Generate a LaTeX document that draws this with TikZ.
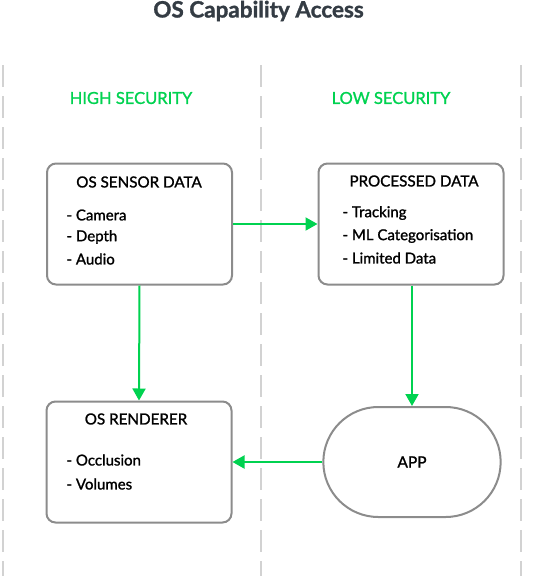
\documentclass[tikz,border=0pt]{standalone}
\usepackage{fontspec}
\setmainfont{Lato}[FakeBold=1.3]
\usepackage{tikz}
\usetikzlibrary{positioning,arrows.meta,shapes.misc}
\definecolor{flowgreen}{RGB}{0,210,80}
\definecolor{boxgray}{RGB}{140,140,140}
\definecolor{lanegray}{RGB}{210,210,210}
\definecolor{titlegray}{RGB}{52,60,68}

\begin{document}
\begin{tikzpicture}[
        x=1pt, y=-1pt,
        box/.style={draw=boxgray, line width=2pt, rounded corners=9pt, minimum width=185pt, minimum height=121pt},
        pill/.style={draw=boxgray, line width=2pt, rounded rectangle, minimum width=184pt, minimum height=110pt, font=\fontsize{15.5}{18}\selectfont},
        head/.style={font=\fontsize{15.2}{18}\selectfont, text=black},
        item/.style={font=\fontsize{15}{18}\selectfont, text=black, anchor=west},
        lane/.style={font=\fontsize{16.5}{20}\selectfont, text=flowgreen},
        flow/.style={draw=flowgreen, line width=2pt, -{Triangle[length=12pt,width=13pt]}},
        divider/.style={draw=lanegray, line width=2.5pt, dash pattern=on 22pt off 9pt}
    ]
        \useasboundingbox (0,0) rectangle (550,576);

        % Title and lanes
        \node[font=\fontsize{22.5}{26}\selectfont\bfseries, text=titlegray] (title) at (258.5,11) {OS Capability Access};
        \node[lane] (high) at (131,98) {HIGH SECURITY};
        \node[lane] (low) at (391,98) {LOW SECURITY};

        % Dashed dividers
        \foreach \xx in {3,261,521}
            \draw[divider] (\xx,65) -- (\xx,580);

        % Boxes
        \node[box, fill=white] (sensor) at (139.5,224) {};
        \node[box, fill=white] (processed) at (411,224) {};
        \node[box, fill=white] (renderer) at (139,462) {};
        \node[pill, fill=white] (app) at (412,462) {APP};

        % Box texts
        \node[head] (sensorhead) at (139,182) {OS SENSOR DATA};
        \node[item] (camera) at (63,215) {- Camera};
        \node[item] (depth) at (63,237) {- Depth};
        \node[item] (audio) at (63,259) {- Audio};

        \node[head] (processedhead) at (414,181) {PROCESSED DATA};
        \node[item] (tracking) at (339,213) {- Tracking};
        \node[item] (mlcat) at (339,236) {- ML Categorisation};
        \node[item] (limited) at (339,258) {- Limited Data};

        \node[head] (rendererhead) at (136,419) {OS RENDERER};
        \node[item] (occlusion) at (63,460) {- Occlusion};
        \node[item] (volumes) at (63,484) {- Volumes};

        % Flows
        \draw[flow] (sensor.east) -- (processed.west);
        \draw[flow] (sensor.south) -- (renderer.north);
        \draw[flow] (processed.south -| app.north) -- (app.north);
        \draw[flow] (app.west) -- (renderer.east);
    \end{tikzpicture}
\end{document}
